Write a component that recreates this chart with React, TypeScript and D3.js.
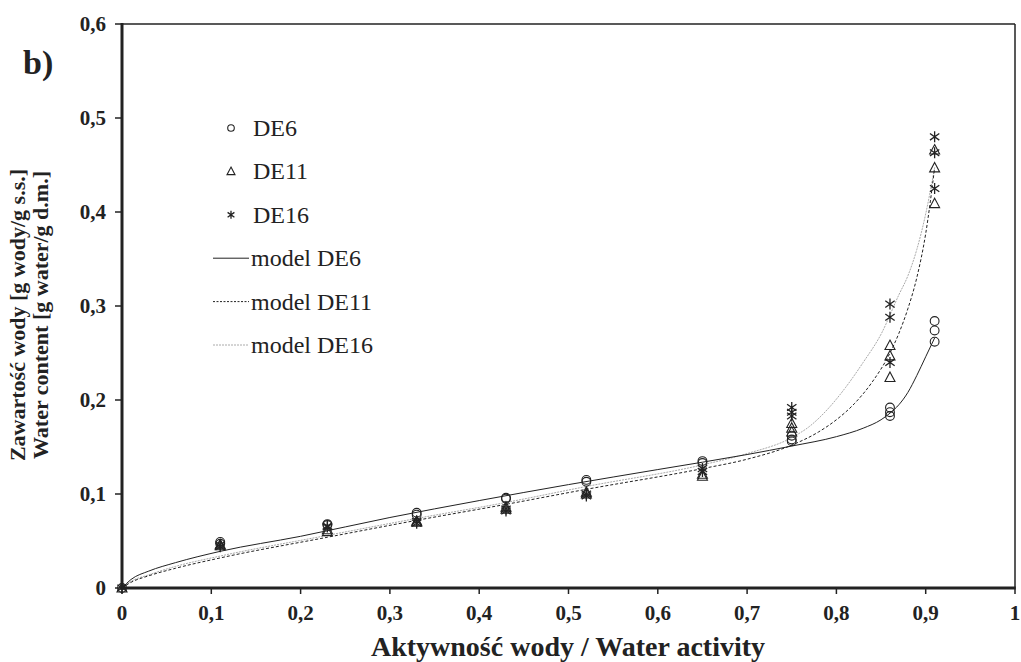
import React from "react";
import * as d3 from "d3";

// Measured data points (water activity, water content)
const awLevels = [0, 0.11, 0.23, 0.33, 0.43, 0.52, 0.65, 0.75, 0.86, 0.91];
const de6Values = [[0], [0.049, 0.047], [0.068, 0.067], [0.08, 0.078], [0.096, 0.095], [0.115, 0.113], [0.135, 0.133], [0.162, 0.158, 0.156], [0.192, 0.187, 0.183], [0.284, 0.274, 0.262]];
const de11Values = [[0], [0.045, 0.046], [0.06, 0.062], [0.07, 0.071], [0.084, 0.086], [0.1, 0.102], [0.119, 0.121], [0.175, 0.17, 0.166], [0.258, 0.247, 0.224], [0.466, 0.447, 0.409]];
const de16Values = [[0], [0.044, 0.046], [0.065, 0.066], [0.069, 0.071], [0.082, 0.084], [0.098, 0.1], [0.127, 0.124], [0.192, 0.187, 0.183], [0.302, 0.288, 0.24], [0.48, 0.463, 0.425]];

// Model curves
const modelDE6Aw = [0, 0.01, 0.03, 0.06, 0.11, 0.2, 0.3, 0.4, 0.5, 0.6, 0.7, 0.75, 0.8, 0.83, 0.85, 0.86, 0.87, 0.88, 0.89, 0.9, 0.91];
const modelDE6Val = [0, 0.009, 0.018, 0.027, 0.039, 0.055, 0.075, 0.093, 0.11, 0.126, 0.142, 0.151, 0.161, 0.17, 0.179, 0.186, 0.195, 0.208, 0.226, 0.246, 0.266];
const modelDE11Aw = [0, 0.01, 0.03, 0.06, 0.11, 0.23, 0.33, 0.43, 0.52, 0.65, 0.7, 0.75, 0.78, 0.8, 0.82, 0.84, 0.86, 0.87, 0.88, 0.89, 0.9, 0.91];
const modelDE11Val = [0, 0.006, 0.013, 0.021, 0.032, 0.054, 0.072, 0.089, 0.105, 0.127, 0.137, 0.152, 0.166, 0.179, 0.196, 0.219, 0.25, 0.271, 0.297, 0.33, 0.377, 0.447];
const modelDE16Aw = [0, 0.01, 0.03, 0.06, 0.11, 0.23, 0.33, 0.43, 0.52, 0.65, 0.7, 0.75, 0.77, 0.79, 0.81, 0.83, 0.85, 0.87, 0.88, 0.89, 0.9, 0.91];
const modelDE16Val = [0, 0.007, 0.014, 0.023, 0.034, 0.056, 0.074, 0.091, 0.108, 0.131, 0.143, 0.16, 0.172, 0.19, 0.213, 0.24, 0.27, 0.312, 0.332, 0.36, 0.398, 0.447];

const xTicks = [0, 0.1, 0.2, 0.3, 0.4, 0.5, 0.6, 0.7, 0.8, 0.9, 1];
const yTicks = [0, 0.1, 0.2, 0.3, 0.4, 0.5, 0.6];
const legendLabels = ["DE6", "DE11", "DE16", "model DE6", "model DE11", "model DE16"];

const FONT = "'Liberation Serif', 'Times New Roman', serif";
const fmt = (v: number) => (v === 0 ? "0" : v === 1 ? "1" : String(v).replace(".", ","));

const x = d3.scaleLinear().domain([0, 1]).range([122, 1015]);
const y = d3.scaleLinear().domain([0, 0.6]).range([588, 24]);

function flatten(vals: number[][]) {
  const out: [number, number][] = [];
  vals.forEach((arr, i) => arr.forEach((v) => out.push([awLevels[i], v])));
  return out;
}

const line = d3
  .line<[number, number]>()
  .x((d) => x(d[0]))
  .y((d) => y(d[1]))
  .curve(d3.curveMonotoneX);

function zip(a: number[], b: number[]): [number, number][] {
  return a.map((v, i) => [v, b[i]]);
}

function Circle({ cx, cy, r }: { cx: number; cy: number; r: number }) {
  return <circle cx={cx} cy={cy} r={r} fill="none" stroke="#222" strokeWidth={1.1} />;
}
function Tri({ cx, cy, s }: { cx: number; cy: number; s: number }) {
  const h = s * 0.9;
  return (
    <path
      d={`M${cx},${cy - h * 0.6}L${cx + s / 2},${cy + h * 0.45}L${cx - s / 2},${cy + h * 0.45}Z`}
      fill="none"
      stroke="#222"
      strokeWidth={1.1}
    />
  );
}
function Star({ cx, cy, s }: { cx: number; cy: number; s: number }) {
  const h = s / 2;
  return (
    <path
      d={`M${cx},${cy - h}L${cx},${cy + h}M${cx - h * 0.85},${cy - h * 0.6}L${cx + h * 0.85},${cy + h * 0.6}M${cx - h * 0.85},${cy + h * 0.6}L${cx + h * 0.85},${cy - h * 0.6}`}
      fill="none"
      stroke="#222"
      strokeWidth={1.3}
    />
  );
}

export default function App() {
  const p6 = flatten(de6Values);
  const p11 = flatten(de11Values);
  const p16 = flatten(de16Values);
  const legX = 231;
  const legY0 = 128;
  const legDy = 43.4;
  return (
    <svg width={1021} height={662} style={{ position: "absolute", left: 0, top: 0 }}>
      <rect width={1021} height={662} fill="#fff" />
      {/* models */}
      <path d={line(zip(modelDE16Aw, modelDE16Val)) || ""} fill="none" stroke="#aaa" strokeWidth={1} strokeDasharray="2,1" />
      <path d={line(zip(modelDE11Aw, modelDE11Val)) || ""} fill="none" stroke="#222" strokeWidth={1} strokeDasharray="3,2" />
      <path d={line(zip(modelDE6Aw, modelDE6Val)) || ""} fill="none" stroke="#222" strokeWidth={1} />
      {/* points */}
      {p6.map((d, i) => (
        <Circle key={"c" + i} cx={x(d[0])} cy={y(d[1])} r={4.4} />
      ))}
      {p11.map((d, i) => (
        <Tri key={"t" + i} cx={x(d[0])} cy={y(d[1])} s={10} />
      ))}
      {p16.map((d, i) => (
        <Star key={"s" + i} cx={x(d[0])} cy={y(d[1])} s={11} />
      ))}
      {/* frame */}
      <line x1={x(0)} x2={x(1)} y1={y(0.6)} y2={y(0.6)} stroke="#222" strokeWidth={1.5} />
      <line x1={x(1)} x2={x(1)} y1={y(0.6)} y2={y(0)} stroke="#222" strokeWidth={1.5} />
      <line x1={x(0)} x2={x(0)} y1={y(0.6) - 1} y2={y(0) + 1.5} stroke="#222" strokeWidth={3} />
      <line x1={x(0) - 1.5} x2={x(1) + 0.75} y1={y(0)} y2={y(0)} stroke="#222" strokeWidth={3} />
      {/* x ticks */}
      {xTicks.map((t) => (
        <g key={"xt" + t}>
          <line x1={x(t)} x2={x(t)} y1={y(0)} y2={y(0) + 6} stroke="#222" strokeWidth={1.5} />
          <text x={x(t)} y={620} textAnchor="middle" fontFamily={FONT} fontWeight="bold" fontSize={21} fill="#222">
            {fmt(t)}
          </text>
        </g>
      ))}
      {/* y ticks */}
      {yTicks.map((t) => (
        <g key={"yt" + t}>
          <line x1={x(0) - 7} x2={x(0)} y1={y(t)} y2={y(t)} stroke="#222" strokeWidth={1.5} />
          <text x={106} y={y(t) + 7} textAnchor="end" fontFamily={FONT} fontWeight="bold" fontSize={21} fill="#222">
            {fmt(t)}
          </text>
        </g>
      ))}
      {/* axis titles */}
      <text x={568} y={656} textAnchor="middle" fontFamily={FONT} fontWeight="bold" fontSize={28} fill="#222">
        Aktywność wody / Water activity
      </text>
      <g transform="translate(25,315) rotate(-90)">
        <text x={0} y={0} textAnchor="middle" fontFamily={FONT} fontWeight="bold" fontSize={22} fill="#222">
          Zawartość wody [g wody/g s.s.]
        </text>
        <text x={0} y={23} textAnchor="middle" fontFamily={FONT} fontWeight="bold" fontSize={22} fill="#222">
          Water content [g water/g d.m.]
        </text>
      </g>
      <text x={23} y={74} fontFamily={FONT} fontWeight="bold" fontSize={34} fill="#222">
        b)
      </text>
      {/* legend */}
      {legendLabels.map((lab, i) => {
        const ly = legY0 + i * legDy;
        let sym: React.ReactNode = null;
        if (i === 0) sym = <Circle cx={legX} cy={ly} r={3.3} />;
        else if (i === 1) sym = <Tri cx={legX} cy={ly} s={8} />;
        else if (i === 2) sym = <Star cx={legX} cy={ly} s={8} />;
        else {
          const style =
            i === 3
              ? { stroke: "#222", dash: undefined }
              : i === 4
              ? { stroke: "#222", dash: "2,1.5" }
              : { stroke: "#aaa", dash: "2,1" };
          sym = <line x1={213} x2={249} y1={ly} y2={ly} stroke={style.stroke} strokeWidth={1} strokeDasharray={style.dash} />;
        }
        return (
          <g key={lab}>
            {sym}
            <text x={i < 3 ? 253 : 251} y={ly + 8} fontFamily={FONT} fontSize={24} fill="#222">
              {lab}
            </text>
          </g>
        );
      })}
    </svg>
  );
}
